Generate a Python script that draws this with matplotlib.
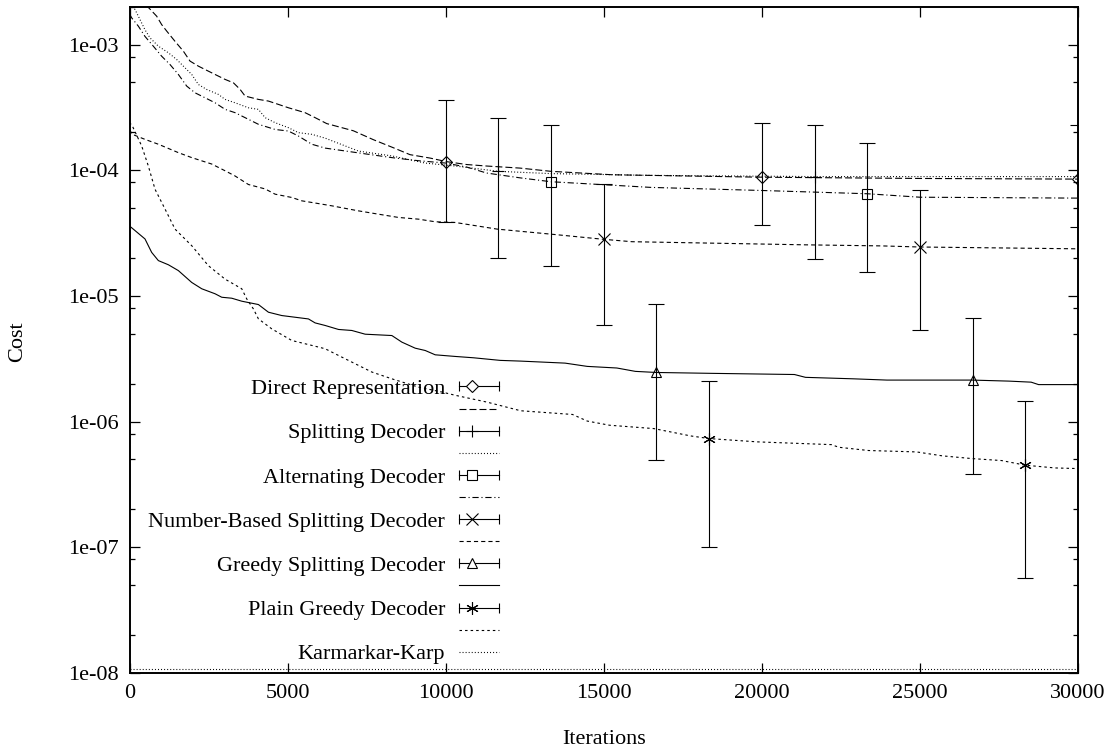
import numpy as np
import matplotlib
matplotlib.use("Agg")
import matplotlib.pyplot as plt
from matplotlib.lines import Line2D
from matplotlib.legend_handler import HandlerBase
from matplotlib.ticker import FixedLocator, FuncFormatter, NullFormatter, NullLocator

# ---------------- data ----------------
direct_x = [0, 617, 860, 1018, 1176, 1440, 1704, 1915, 2179, 2495, 2706, 3023, 3287, 3497,
            3656, 4077, 4394, 4710, 5027, 5554, 5871, 6238, 7081, 7713, 8345, 8872, 9504,
            10031, 10663, 11296, 12349, 13333, 15280, 20000, 25000, 30000]
direct_y = [2.6e-3, 1.95e-3, 1.68e-3, 1.44e-3, 1.28e-3, 1.06e-3, 8.85e-4, 7.38e-4, 6.73e-4,
            6.14e-4, 5.78e-4, 5.28e-4, 4.96e-4, 4.40e-4, 3.89e-4, 3.66e-4, 3.55e-4, 3.34e-4,
            3.14e-4, 2.87e-4, 2.62e-4, 2.35e-4, 2.06e-4, 1.75e-4, 1.51e-4, 1.33e-4, 1.25e-4,
            1.17e-4, 1.11e-4, 1.08e-4, 1.04e-4, 9.8e-5, 9.2e-5, 8.8e-5, 8.6e-5, 8.5e-5]

split_x = [0, 174, 332, 490, 649, 913, 1229, 1493, 1704, 1968, 2179, 2443, 2812, 3023, 3339,
           3761, 4077, 4289, 4605, 5027, 5344, 5766, 6188, 7243, 8298, 9353, 10302, 11667,
           13333, 16500, 21667, 30000]
split_y = [2.05e-3, 1.90e-3, 1.58e-3, 1.31e-3, 1.13e-3, 9.7e-4, 8.6e-4, 7.6e-4, 6.73e-4,
           5.78e-4, 4.81e-4, 4.39e-4, 4.01e-4, 3.66e-4, 3.44e-4, 3.14e-4, 3.05e-4, 2.62e-4,
           2.39e-4, 2.18e-4, 1.99e-4, 1.93e-4, 1.80e-4, 1.42e-4, 1.30e-4, 1.14e-4, 1.08e-4,
           9.8e-5, 9.4e-5, 9.1e-5, 8.9e-5, 8.9e-5]

alt_x = [0, 69, 280, 490, 754, 1018, 1282, 1546, 1810, 2073, 2390, 2707, 3023, 3339, 3656,
         4077, 4605, 5027, 5344, 5766, 6188, 7454, 8298, 9142, 10007, 10663, 11296, 12349,
         13333, 16500, 20000, 23333, 25000, 30000]
alt_y = [1.75e-3, 1.63e-3, 1.40e-3, 1.16e-3, 9.7e-4, 8.07e-4, 6.93e-4, 5.78e-4, 4.67e-4,
         4.13e-4, 3.77e-4, 3.44e-4, 3.05e-4, 2.87e-4, 2.62e-4, 2.32e-4, 2.11e-4, 2.05e-4,
         1.87e-4, 1.61e-4, 1.50e-4, 1.35e-4, 1.26e-4, 1.19e-4, 1.14e-4, 1.06e-4, 9.5e-5,
         8.7e-5, 8.1e-5, 7.3e-5, 6.9e-5, 6.5e-5, 6.1e-5, 6.0e-5]

num_x = [0, 90, 490, 913, 1546, 1968, 2601, 3023, 3339, 3761, 4289, 4605, 5133, 5449, 5766,
         6399, 7243, 7876, 8509, 9142, 9669, 10302, 11630, 13333, 15000, 15890, 21366, 23800,
         25000, 30000]
num_y = [2.1e-4, 1.93e-4, 1.76e-4, 1.61e-4, 1.38e-4, 1.26e-4, 1.12e-4, 9.9e-5, 9.0e-5, 7.7e-5,
         7.1e-5, 6.45e-5, 6.07e-5, 5.71e-5, 5.54e-5, 5.21e-5, 4.75e-5, 4.47e-5, 4.21e-5,
         4.08e-5, 3.89e-5, 3.84e-5, 3.4e-5, 3.1e-5, 2.82e-5, 2.7e-5, 2.55e-5, 2.5e-5, 2.45e-5,
         2.37e-5]

gsplit_x = [0, 90, 490, 701, 913, 1229, 1546, 1968, 2285, 2707, 2918, 3234, 3550, 4077, 4394,
            4816, 5660, 5871, 6188, 6610, 7032, 7454, 8298, 8614, 9036, 9353, 9669, 10302,
            10882, 11726, 12373, 13777, 14479, 15415, 16000, 16667, 18457, 21031, 21382,
            22903, 23956, 26647, 27817, 28519, 28753, 30000]
gsplit_y = [3.6e-5, 3.45e-5, 2.84e-5, 2.22e-5, 1.91e-5, 1.77e-5, 1.59e-5, 1.28e-5, 1.14e-5,
            1.04e-5, 9.76e-6, 9.59e-6, 9.08e-6, 8.54e-6, 7.42e-6, 6.98e-6, 6.56e-6, 6.10e-6,
            5.82e-6, 5.41e-6, 5.31e-6, 4.96e-6, 4.84e-6, 4.29e-6, 3.84e-6, 3.68e-6, 3.40e-6,
            3.30e-6, 3.22e-6, 3.07e-6, 3.03e-6, 2.92e-6, 2.75e-6, 2.67e-6, 2.51e-6, 2.46e-6,
            2.42e-6, 2.37e-6, 2.25e-6, 2.19e-6, 2.14e-6, 2.14e-6, 2.10e-6, 2.06e-6, 1.97e-6,
            1.97e-6]

plain_x = [0, 90, 385, 596, 807, 1124, 1440, 1968, 2495, 3023, 3550, 3708, 3919, 4077, 4499,
           5133, 5766, 6188, 6610, 7243, 7665, 8298, 9142, 9880, 10302, 11304, 12373, 14011,
           14479, 15181, 16585, 17755, 18333, 19861, 22201, 22435, 23371, 24892, 25711,
           26647, 27583, 28333, 29272, 30000]
plain_y = [2.4e-4, 2.25e-4, 1.56e-4, 1.08e-4, 7.06e-5, 4.91e-5, 3.40e-5, 2.51e-5, 1.74e-5,
           1.36e-5, 1.14e-5, 9.47e-6, 7.88e-6, 6.57e-6, 5.47e-6, 4.42e-6, 4.04e-6, 3.80e-6,
           3.36e-6, 2.80e-6, 2.48e-6, 2.19e-6, 1.88e-6, 1.72e-6, 1.62e-6, 1.43e-6, 1.22e-6,
           1.14e-6, 1.01e-6, 9.36e-7, 8.8e-7, 7.69e-7, 7.33e-7, 6.90e-7, 6.56e-7, 6.25e-7,
           5.89e-7, 5.74e-7, 5.34e-7, 5.08e-7, 4.90e-7, 4.50e-7, 4.28e-7, 4.23e-7]

kk_x = [0, 30000]
kk_y = [1.08e-8, 1.08e-8]

# error bars: position, value, low, high
direct_ex = [10000, 20000, 30000]
direct_ev = [1.17e-4, 8.8e-5, 8.5e-5]
direct_elo = [3.85e-5, 3.64e-5, 3.53e-5]
direct_ehi = [3.63e-4, 2.39e-4, 2.28e-4]

split_ex = [11667, 21667]
split_ev = [9.8e-5, 8.9e-5]
split_elo = [2.0e-5, 1.95e-5]
split_ehi = [2.58e-4, 2.29e-4]

alt_ex = [13333, 23333]
alt_ev = [8.08e-5, 6.5e-5]
alt_elo = [1.73e-5, 1.55e-5]
alt_ehi = [2.28e-4, 1.66e-4]

num_ex = [15000, 25000]
num_ev = [2.82e-5, 2.45e-5]
num_elo = [5.9e-6, 5.4e-6]
num_ehi = [7.84e-5, 6.98e-5]

gsplit_ex = [16667, 26667]
gsplit_ev = [2.46e-6, 2.14e-6]
gsplit_elo = [4.99e-7, 3.82e-7]
gsplit_ehi = [8.6e-6, 6.68e-6]

plain_ex = [18333, 28333]
plain_ev = [7.33e-7, 4.5e-7]
plain_elo = [1.01e-7, 5.67e-8]
plain_ehi = [2.09e-6, 1.46e-6]

labels = ["Direct Representation", "Splitting Decoder", "Alternating Decoder",
          "Number-Based Splitting Decoder", "Greedy Splitting Decoder",
          "Plain Greedy Decoder", "Karmarkar-Karp"]

x_ticks = [0, 5000, 10000, 15000, 20000, 25000, 30000]
y_ticks = [1e-8, 1e-7, 1e-6, 1e-5, 1e-4, 1e-3]

# ---------------- styling ----------------
plt.rcParams['font.family'] = ['Liberation Serif', 'DejaVu Serif']
plt.rcParams['lines.scale_dashes'] = False
FS = 16
LW = 0.8
K = 'black'

fig = plt.figure(figsize=(11.08, 7.55), dpi=100)
W, H = 1108.0, 755.0
x0, x1, ytop, ybot = 129.5, 1078.0, 6.7, 673.0
ax = fig.add_axes([x0 / W, 1 - ybot / H, (x1 - x0) / W, (ybot - ytop) / H])

series = [
    (direct_x, direct_y, (0, (5, 2.2)), 'D', direct_ex, direct_ev, direct_elo, direct_ehi),
    (split_x, split_y, (0, (0.7, 1.5)), '+', split_ex, split_ev, split_elo, split_ehi),
    (alt_x, alt_y, (0, (4.5, 2.0, 0.8, 2.0)), 's', alt_ex, alt_ev, alt_elo, alt_ehi),
    (num_x, num_y, (0, (3.0, 2.2)), 'x', num_ex, num_ev, num_elo, num_ehi),
    (gsplit_x, gsplit_y, '-', '^', gsplit_ex, gsplit_ev, gsplit_elo, gsplit_ehi),
    (plain_x, plain_y, (0, (1.8, 2.2)), (6, 2, 0), plain_ex, plain_ev, plain_elo, plain_ehi),
]
msizes = {'D': 6.5, '+': 9, 's': 7, 'x': 8, '^': 7.5}

line_handles = []
marker_handles = []
for xs, ys, ls, mk, ex, ev, elo, ehi in series:
    ax.plot(xs, ys, color=K, lw=LW, linestyle=ls)
    ev_a = np.array(ev)
    yerr = [ev_a - np.array(elo), np.array(ehi) - ev_a]
    ms = msizes.get(mk, 9) if isinstance(mk, str) else 9
    ax.errorbar(ex, ev, yerr=yerr, fmt='none', ecolor=K, elinewidth=LW,
                capsize=5.5, capthick=LW)
    ax.plot(ex, ev, linestyle='none', marker=mk, ms=ms, mfc='none', mec=K, mew=LW)
    line_handles.append(Line2D([], [], color=K, lw=LW, linestyle=ls))
    marker_handles.append(Line2D([], [], marker=mk, ms=ms, mfc='none', mec=K, mew=LW,
                                 linestyle='none'))

ax.plot(kk_x, kk_y, color=K, lw=LW, linestyle=(0, (0.7, 1.5)))

ax.set_yscale('log')
ax.set_xlim(0, 30000)
ax.set_ylim(1e-8, 2.0e-3)

ax.xaxis.set_major_locator(FixedLocator(x_ticks))
ax.xaxis.set_minor_locator(NullLocator())
ax.yaxis.set_major_locator(FixedLocator(y_ticks))
minors = [m * 10.0 ** e for e in range(-8, -2) for m in (2, 5, 8)]
ax.yaxis.set_minor_locator(FixedLocator(minors))
ax.yaxis.set_major_formatter(FuncFormatter(lambda v, p: "%.0e" % v))
ax.yaxis.set_minor_formatter(NullFormatter())
ax.tick_params(which='both', direction='in', top=True, right=True, colors=K,
               labelsize=FS, width=0.9)
ax.tick_params(which='major', length=7, pad=8)
ax.tick_params(which='minor', length=3.8)
for s in ax.spines.values():
    s.set_linewidth(1.4)
    s.set_color(K)

fig.text(18 / W, 1 - 342 / H, "Cost", rotation=90, ha='center', va='center', fontsize=FS)
fig.text(604 / W, 1 - 740 / H, "Iterations", ha='center', va='center', fontsize=FS)


class HErrHandler(HandlerBase):
    def create_artists(self, legend, orig_handle, xdescent, ydescent, width, height,
                       fontsize, trans):
        y = (height - ydescent) / 2.0
        xa, xb = -xdescent, -xdescent + width
        bar = Line2D([xa, xb], [y, y], color=K, lw=LW)
        caps = Line2D([xa, xb], [y, y], linestyle='none', marker='|', ms=7, mew=LW, color=K)
        mk = Line2D([xa + 0.32 * width], [y], linestyle='none',
                    marker=orig_handle.get_marker(), ms=orig_handle.get_markersize(),
                    mfc='white', mec=K, mew=LW)
        for a in (bar, caps, mk):
            a.set_transform(trans)
        return [bar, caps, mk]


handles, texts, hmap = [], [], {}
for i in range(6):
    handles.append(marker_handles[i])
    texts.append(labels[i])
    hmap[marker_handles[i]] = HErrHandler()
    handles.append(line_handles[i])
    texts.append("")
kk_h = Line2D([], [], color=K, lw=LW, linestyle=(0, (0.7, 1.5)))
handles.append(kk_h)
texts.append(labels[6])

leg = ax.legend(handles, texts, handler_map=hmap, loc='lower right',
                bbox_to_anchor=(499 / W, 1 - 664.5 / H), bbox_transform=fig.transFigure,
                frameon=False, fontsize=FS, markerfirst=False, borderpad=0,
                handlelength=1.8, handletextpad=0.63, labelspacing=0.07,
                borderaxespad=0)

fig.savefig("out.png", dpi=100)
